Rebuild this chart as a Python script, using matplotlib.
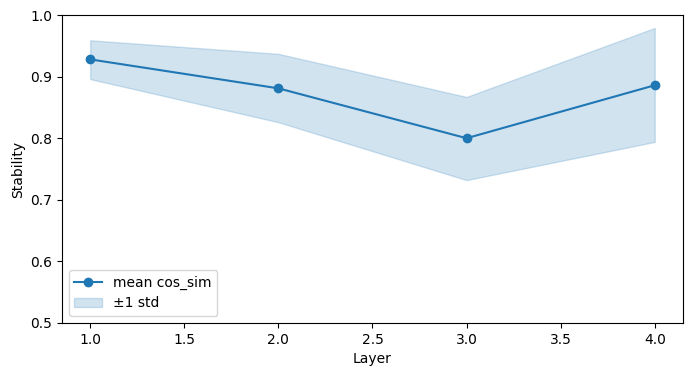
import matplotlib.pyplot as plt

# layer-wise stability values
layers = [1, 2, 3, 4]
mean_cos = [0.928, 0.881, 0.800, 0.886]
upper = [0.959, 0.937, 0.867, 0.979]
lower = [0.896, 0.826, 0.732, 0.794]

fig = plt.figure(figsize=(6.91, 3.76), dpi=100)
ax = fig.add_axes([0.0897, 0.141, 0.8987, 0.819])

ax.plot(layers, mean_cos, marker="o", label="mean cos_sim")
ax.fill_between(layers, lower, upper, color="C0", alpha=0.2, label="±1 std")

ax.set_ylim(0.5, 1.0)
ax.set_xlabel("Layer")
ax.set_ylabel("Stability")
ax.legend(loc="lower left")

fig.savefig("out.png", dpi=100)
